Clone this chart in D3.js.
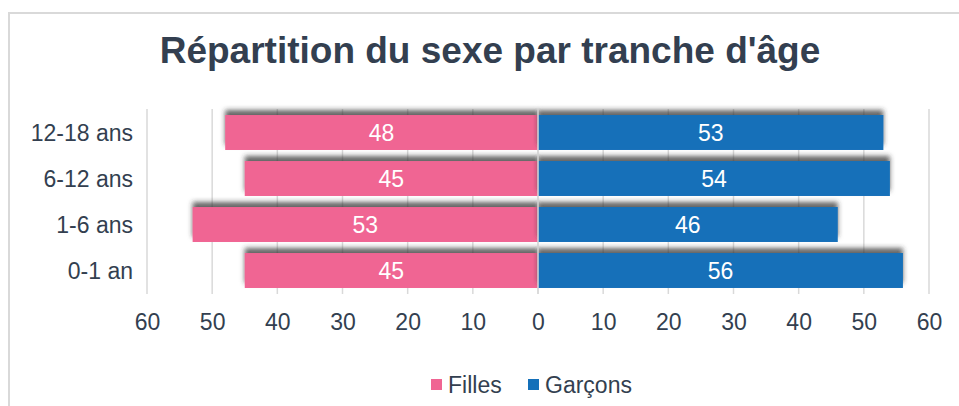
<!DOCTYPE html>
<html>
<head>
<meta charset="utf-8">
<script src="https://cdn.jsdelivr.net/npm/d3@7"></script>
<style>
  body { margin: 0; background: #fff; }
  svg { display: block; font-family: 'Liberation Sans', Arial, sans-serif; }
</style>
</head>
<body>
<div id="chart"></div>
<script>
const categories = ['12-18 ans', '6-12 ans', '1-6 ans', '0-1 an'];
const filles = [48, 45, 53, 45];
const garcons = [53, 54, 46, 56];
const tickValues = [-60, -50, -40, -30, -20, -10, 0, 10, 20, 30, 40, 50, 60];

const width = 959;
const height = 406;
const textColor = '#333f50';
const pink = '#f06593';
const blue = '#1470b9';

const svg = d3.select('#chart')
  .append('svg')
  .attr('width', width)
  .attr('height', height);

// chart frame (runs off the right and bottom edge)
svg.append('path')
  .attr('d', 'M9,' + height + ' V13 H' + width)
  .attr('fill', 'none')
  .attr('stroke', '#d9d9d9')
  .attr('stroke-width', 2);

const defs = svg.append('defs');
const shadow = defs.append('filter')
  .attr('id', 'shadow')
  .attr('x', '-10%').attr('y', '-50%')
  .attr('width', '120%').attr('height', '200%');
shadow.append('feDropShadow')
  .attr('dx', 0).attr('dy', -5)
  .attr('stdDeviation', 2.6)
  .attr('flood-color', '#333')
  .attr('flood-opacity', 0.75);

svg.append('text')
  .attr('x', 490)
  .attr('y', 63)
  .attr('text-anchor', 'middle')
  .attr('font-size', 37)
  .attr('font-weight', 'bold')
  .attr('fill', textColor)
  .text("Répartition du sexe par tranche d'âge");

const x = d3.scaleLinear().domain([-60, 60]).range([147, 929]);
const y = d3.scaleBand()
  .domain(categories)
  .range([109.5, 293.5])
  .paddingInner(0.24)
  .paddingOuter(0.12);

// grid
svg.append('g')
  .selectAll('line')
  .data(tickValues)
  .join('line')
  .attr('x1', d => x(d)).attr('x2', d => x(d))
  .attr('y1', 109).attr('y2', 294)
  .attr('stroke', '#d9d9d9')
  .attr('stroke-width', 1.5);

const rows = categories.map((c, i) => ({ cat: c, f: filles[i], g: garcons[i] }));

const bars = svg.append('g');
bars.selectAll('.f')
  .data(rows)
  .join('rect')
  .attr('class', 'f')
  .attr('x', d => x(-d.f))
  .attr('y', d => y(d.cat))
  .attr('width', d => x(0) - x(-d.f))
  .attr('height', y.bandwidth())
  .attr('fill', pink)
  .attr('filter', 'url(#shadow)');
bars.selectAll('.g')
  .data(rows)
  .join('rect')
  .attr('class', 'g')
  .attr('x', x(0))
  .attr('y', d => y(d.cat))
  .attr('width', d => x(d.g) - x(0))
  .attr('height', y.bandwidth())
  .attr('fill', blue)
  .attr('filter', 'url(#shadow)');

// zero line
svg.append('line')
  .attr('x1', x(0)).attr('x2', x(0))
  .attr('y1', 109).attr('y2', 294)
  .attr('stroke', '#d9d9d9')
  .attr('stroke-width', 1.5);

// value labels
const labels = svg.append('g')
  .attr('font-size', 23)
  .attr('fill', '#fff')
  .attr('text-anchor', 'middle');
labels.selectAll('.lf')
  .data(rows)
  .join('text')
  .attr('x', d => (x(-d.f) + x(0)) / 2)
  .attr('y', d => y(d.cat) + y.bandwidth() / 2 + 8)
  .text(d => d.f);
labels.selectAll('.lg')
  .data(rows)
  .join('text')
  .attr('x', d => (x(d.g) + x(0)) / 2)
  .attr('y', d => y(d.cat) + y.bandwidth() / 2 + 8)
  .text(d => d.g);

// y axis labels
const yAxis = svg.append('g')
  .attr('transform', 'translate(147,0)')
  .call(d3.axisLeft(y).tickSize(0).tickPadding(14));
yAxis.select('.domain').remove();
yAxis.selectAll('text')
  .attr('font-size', 23)
  .attr('font-family', null)
  .attr('fill', textColor)
  .attr('dy', '0.35em');

// x axis labels
const xAxis = svg.append('g')
  .attr('transform', 'translate(0,294)')
  .call(d3.axisBottom(x).tickValues(tickValues).tickSize(0).tickPadding(20)
    .tickFormat(d => Math.abs(d)));
xAxis.select('.domain').remove();
xAxis.selectAll('text')
  .attr('font-size', 23)
  .attr('font-family', null)
  .attr('fill', textColor);

// legend
const legendItems = [
  { name: 'Filles', color: pink, x: 431 },
  { name: 'Garçons', color: blue, x: 528 }
];
const legend = svg.append('g')
  .selectAll('g')
  .data(legendItems)
  .join('g')
  .attr('transform', d => 'translate(' + d.x + ',379)');
legend.append('rect')
  .attr('width', 11).attr('height', 11)
  .attr('fill', d => d.color);
legend.append('text')
  .attr('x', 17).attr('y', 14)
  .attr('font-size', 23)
  .attr('fill', textColor)
  .text(d => d.name);
</script>
</body>
</html>
